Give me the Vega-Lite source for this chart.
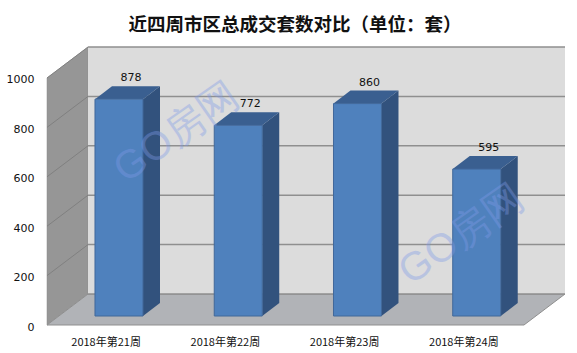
{
"$schema":"https://vega.github.io/schema/vega-lite/v6.json",
"autosize":{"type":"none"},
"padding":{"left":47,"top":47,"right":12,"bottom":28},
"width":518,"height":278,
"background":"white",
"title":{"text":"近四周市区总成交套数对比\uff08单位\uff1a套\uff09","font":"Noto Sans CJK SC","fontSize":18.5,"fontWeight":"bold","color":"#111111","anchor":"middle","frame":"group","dx":-11,"offset":12},
"config":{"view":{"stroke":null}},
"datasets":{
"bars":[{"week":21,"value":878},{"week":22,"value":772},{"week":23,"value":860},{"week":24,"value":595}],
"ticks":[{"tick":0},{"tick":200},{"tick":400},{"tick":600},{"tick":800},{"tick":1000}],
"depth":[{"t":0},{"t":1}]
},
"layer":[
{"data":{"name":"depth"},"transform":[{"calculate":"0.344*datum.t","as":"x"},{"calculate":"125.5*datum.t","as":"y0"},{"calculate":"1000+125.5*datum.t","as":"y1"}],
"mark":{"type":"area","orient":"vertical","fill":"#969696","stroke":"#8a8a8a","strokeWidth":0.5},
"encoding":{
"x":{"field":"x","type":"quantitative","scale":{"domain":[0,4.344],"nice":false,"zero":false},"axis":{"values":[0.5,1.5,2.5,3.5],"title":null,"grid":false,"domain":false,"ticks":false,"labelPadding":11,"labelFont":"Noto Sans CJK SC","labelFontSize":11,"labelColor":"#111111","labelOffset":-1,"labelExpr":"'2018年第'+(datum.value+20.5)+'周'"}},
"y":{"field":"y1","type":"quantitative","stack":null,"scale":{"domain":[0,1125.5],"nice":false,"zero":false},"axis":{"values":[0,200,400,600,800,1000],"format":"d","title":null,"grid":false,"domain":false,"ticks":false,"labelPadding":13,"labelOffset":2,"labelFont":"DejaVu Sans","labelFontSize":11,"labelColor":"#111111"}},
"y2":{"field":"y0"}}},
{"data":{"name":"depth"},"transform":[{"calculate":"0.344*datum.t","as":"x0"},{"calculate":"4+0.344*datum.t","as":"x1"},{"calculate":"125.5*datum.t","as":"y"}],
"mark":{"type":"area","orient":"horizontal","fill":"#b1b3b7","stroke":"#8f8f8f","strokeWidth":1},
"encoding":{
"y":{"field":"y","type":"quantitative","stack":null,"scale":{"domain":[0,1125.5],"nice":false,"zero":false}},
"x":{"field":"x0","type":"quantitative","scale":{"domain":[0,4.344],"nice":false,"zero":false}},
"x2":{"field":"x1"}}},
{"data":{"values":[{"x0":0.344,"x1":4.344,"y0":125.5,"y1":1125.5}]},
"mark":{"type":"rect","fill":"#dcdcdc"},
"encoding":{
"x":{"field":"x0","type":"quantitative","scale":{"domain":[0,4.344],"nice":false,"zero":false}},
"x2":{"field":"x1"},
"y":{"field":"y0","type":"quantitative","scale":{"domain":[0,1125.5],"nice":false,"zero":false}},
"y2":{"field":"y1"}}},
{"data":{"name":"ticks"},"transform":[{"calculate":"datum.tick+125.5","as":"yb"},{"calculate":"0.344","as":"x0"},{"calculate":"4.344","as":"x1"}],
"mark":{"type":"rule","stroke":"#8f8f8f","strokeWidth":1.5},
"encoding":{
"x":{"field":"x0","type":"quantitative","scale":{"domain":[0,4.344],"nice":false,"zero":false}},
"x2":{"field":"x1"},
"y":{"field":"yb","type":"quantitative","scale":{"domain":[0,1125.5],"nice":false,"zero":false}}}},
{"data":{"name":"ticks"},"transform":[{"filter":"datum.tick>0"},{"calculate":"0","as":"x0"},{"calculate":"0.344","as":"x1"},{"calculate":"datum.tick+125.5","as":"yb"}],
"mark":{"type":"rule","stroke":"#808080","strokeWidth":1},
"encoding":{
"x":{"field":"x0","type":"quantitative","scale":{"domain":[0,4.344],"nice":false,"zero":false}},
"x2":{"field":"x1"},
"y":{"field":"tick","type":"quantitative","scale":{"domain":[0,1125.5],"nice":false,"zero":false}},
"y2":{"field":"yb"}}},
{"data":{"name":"bars"},"transform":[{"calculate":"[0,1]","as":"t"},{"flatten":["t"]},{"calculate":"datum.week-21+0.805+0.1426*datum.t","as":"x"},{"calculate":"datum.value+36.4+52.6*datum.t","as":"y1"},{"calculate":"36.4+52.6*datum.t","as":"y0"}],
"mark":{"type":"area","orient":"vertical","fill":"#32527d"},
"encoding":{
"detail":{"field":"week"},
"x":{"field":"x","type":"quantitative","scale":{"domain":[0,4.344],"nice":false,"zero":false}},
"y":{"field":"y1","type":"quantitative","stack":null,"scale":{"domain":[0,1125.5],"nice":false,"zero":false}},
"y2":{"field":"y0"}}},
{"data":{"name":"bars"},"transform":[{"calculate":"[0,1]","as":"t"},{"flatten":["t"]},{"calculate":"datum.week-21+0.4025+0.1426*datum.t","as":"x0"},{"calculate":"datum.week-21+0.805+0.1426*datum.t","as":"x1"},{"calculate":"datum.value+36.4+52.6*datum.t","as":"y"}],
"mark":{"type":"area","orient":"horizontal","fill":"#3a5f90"},
"encoding":{
"detail":{"field":"week"},
"y":{"field":"y","type":"quantitative","stack":null,"scale":{"domain":[0,1125.5],"nice":false,"zero":false}},
"x":{"field":"x0","type":"quantitative","scale":{"domain":[0,4.344],"nice":false,"zero":false}},
"x2":{"field":"x1"}}},
{"data":{"name":"bars"},"transform":[{"calculate":"datum.week-21+0.4025","as":"x0"},{"calculate":"datum.week-21+0.805","as":"x1"},{"calculate":"datum.value+36.4","as":"y1"},{"calculate":"36.4","as":"y0"}],
"mark":{"type":"rect","fill":"#4f81bd","stroke":"#41689a","strokeWidth":1},
"encoding":{
"x":{"field":"x0","type":"quantitative","scale":{"domain":[0,4.344],"nice":false,"zero":false}},
"x2":{"field":"x1"},
"y":{"field":"y1","type":"quantitative","scale":{"domain":[0,1125.5],"nice":false,"zero":false}},
"y2":{"field":"y0"}}},
{"data":{"name":"bars"},"transform":[{"calculate":"datum.week-21+0.7045","as":"x"},{"calculate":"datum.value+89","as":"y"}],
"mark":{"type":"text","font":"DejaVu Sans","fontSize":11,"color":"#111111","baseline":"middle","dy":-8},
"encoding":{
"x":{"field":"x","type":"quantitative","scale":{"domain":[0,4.344],"nice":false,"zero":false}},
"y":{"field":"y","type":"quantitative","scale":{"domain":[0,1125.5],"nice":false,"zero":false}},
"text":{"field":"value","type":"quantitative"}}},
{"data":{"values":[{"label":"GO房网","gx":1.09,"gy":777},{"label":"GO房网","gx":3.48,"gy":364}]},
"mark":{"type":"text","font":"Liberation Sans","fontSize":40,"angle":325,"color":"#7f9be8","opacity":0.38,"baseline":"middle","align":"center"},
"encoding":{
"x":{"field":"gx","type":"quantitative","scale":{"domain":[0,4.344],"nice":false,"zero":false}},
"y":{"field":"gy","type":"quantitative","scale":{"domain":[0,1125.5],"nice":false,"zero":false}},
"text":{"field":"label"}}}
]}
